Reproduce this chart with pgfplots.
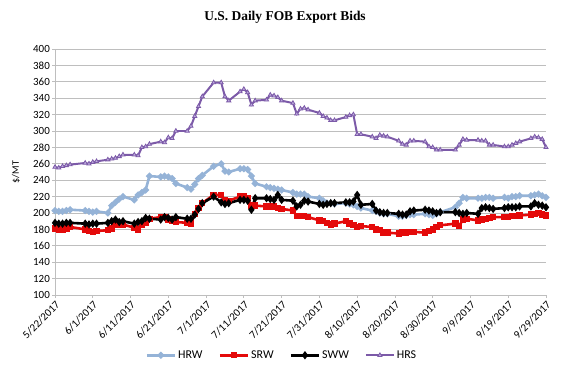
\documentclass[border=0pt]{standalone}
\usepackage{pgfplots}
\pgfplotsset{compat=1.18}
\usepackage{pgfplotstable}
\usepackage{fontspec}
\setmainfont{Carlito}
\newfontfamily\titlefont{Liberation Serif}
\definecolor{hrw}{RGB}{149,179,215}
\definecolor{srw}{RGB}{228,10,10}
\definecolor{hrs}{RGB}{124,90,168}
\definecolor{hrsfill}{RGB}{190,172,222}
\definecolor{gridc}{RGB}{190,190,190}
\pgfplotstableread{
day HRW SRW SWW HRS
0 203 181 188 256
1 202 180 187 255
2 202 180 187 257
3 203 181 188 258
4 204 183 188 259
8 203 180 187 261
9 202 178 186 260
10 201 177 187 262
11 202 178 187 263
14 200 179 188 265
15 209 181 190 266
16 213 185 192 267
17 217 186 189 269
18 220 186 190 271
21 216 182 187 271
22 222 180 189 270
23 225 185 190 280
24 228 188 194 281
25 245 193 193 284
28 244 195 192 287
29 245 195 195 286
30 244 192 194 292
31 242 191 192 291
32 236 189 195 300
35 231 188 193 300
36 229 187 193 306
37 235 199 198 318
38 242 206 205 330
39 246 212 212 342
42 257 222 220 359
44 260 222 213 359
45 251 216 211 342
46 250 215 212 337
49 254 220 216 348
50 254 220 216 351
51 253 218 215 347
52 245 209 204 332
53 236 209 218 337
56 232 208 218 338
57 231 208 217 344
58 230 208 216 343
59 229 206 222 341
60 228 205 216 337
63 225 203 215 334
64 223 196 208 321
65 223 196 210 327
66 223 196 215 328
67 220 195 214 326
70 218 191 211 322
71 215 190 210 318
72 212 188 211 316
73 212 186 212 313
74 211 187 212 313
77 212 190 213 317
78 211 187 213 319
79 210 185 214 320
80 208 183 222 296
81 206 184 210 296
84 203 183 211 293
85 202 180 203 291
86 200 179 201 295
87 199 176 200 294
88 199 176 200 293
91 196 175 199 288
92 196 176 198 284
93 197 176 198 283
94 198 177 202 288
95 198 177 203 288
98 199 176 204 287
99 198 178 203 281
100 197 180 202 280
101 199 183 200 277
102 201 185 201 277
106 207 187 201 277
107 212 184 200 283
108 219 192 199 290
109 218 193 200 289
112 218 191 199 289
113 218 192 206 288
114 219 193 207 288
115 219 194 206 283
116 218 195 205 283
119 219 195 206 281
120 218 195 207 281
121 220 196 207 283
122 220 196 207 285
123 221 197 208 287
126 221 198 208 291
127 222 199 212 293
128 223 200 210 292
129 221 198 209 290
130 219 197 207 280
}\bids
\begin{document}
\begin{tikzpicture}
\useasboundingbox (0,0) rectangle (570bp,374bp);
\node[font=\titlefont\bfseries\fontsize{13.5}{15}\selectfont] at (285bp,357bp) {U.S. Daily FOB Export Bids};
\begin{axis}[
  at={(55bp,79bp)}, anchor=south west,
  scale only axis, width=491bp, height=246bp,
  xmin=0, xmax=130, ymin=100, ymax=400,
  xtick={0,10,...,130},
  xticklabels={5/22/2017,6/1/2017,6/11/2017,6/21/2017,7/1/2017,7/11/2017,7/21/2017,7/31/2017,8/10/2017,8/20/2017,8/30/2017,9/9/2017,9/19/2017,9/29/2017},
  ytick={100,120,...,400},
  ymajorgrids, grid style={gridc, line width=0.8pt},
  axis x line*=bottom, axis y line*=left,
  axis line style={gridc, line width=0.8pt},
  tick style={gridc, line width=0.8pt},
  tick align=outside, major tick length=3bp,
  /pgf/number format/assume math mode=true,
  tick label style={font=\fontsize{11}{12}\selectfont, text=black},
  xticklabel style={rotate=45, anchor=north east, inner sep=1.5pt},
  yticklabel style={inner sep=2pt},
  ylabel={\$/MT}, ylabel style={font=\fontsize{11.5}{13}\selectfont},
  every axis y label/.style={at={(-39bp,123bp)}, rotate=90, anchor=center},
  legend columns=4,
  legend style={draw=none, fill=none, at={(0.462,-0.245)}, anchor=center, font=\fontsize{12}{13}\selectfont, /tikz/every even column/.append style={column sep=14bp}},
  legend image code/.code={\draw[#1] (0bp,0bp) -- (14bp,0bp) plot coordinates {(14bp,0bp)} -- (28bp,0bp);},
]
\addplot[hrw, line width=2.6pt, mark=*, mark size=1.9pt] table[x=day, y=HRW] {\bids};
\addlegendentry{HRW}
\addplot[srw, line width=2.6pt, mark=square*, mark size=1.9pt] table[x=day, y=SRW] {\bids};
\addlegendentry{SRW}
\addplot[black, line width=2.6pt, mark=diamond*, mark size=2.1pt] table[x=day, y=SWW] {\bids};
\addlegendentry{SWW}
\addplot[hrs, line width=2pt, mark=triangle*, mark size=2.4pt, mark options={fill=hrsfill, draw=hrs, line width=0.8pt}] table[x=day, y=HRS] {\bids};
\addlegendentry{HRS}
\end{axis}
\end{tikzpicture}
\end{document}
